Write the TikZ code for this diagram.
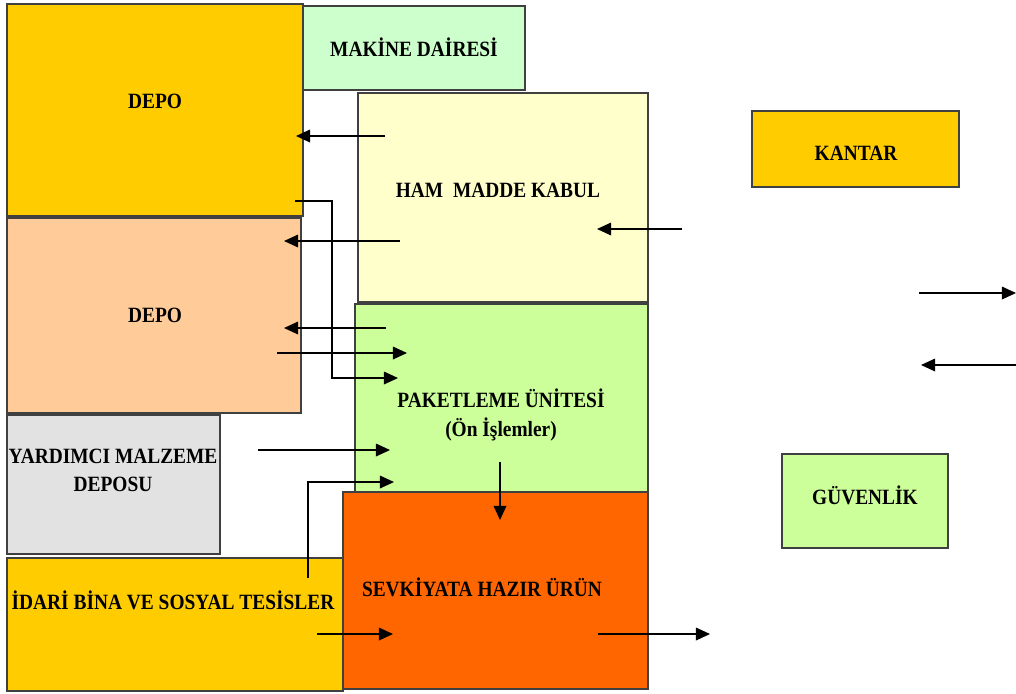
\documentclass[tikz,border=0pt]{standalone}
\usepackage{fontspec}
\setmainfont{Liberation Serif}[FakeStretch=0.89]
\usetikzlibrary{arrows.meta, positioning, fit}
\definecolor{Gold}{HTML}{FFCC00}
\definecolor{Mint}{HTML}{CCFFCC}
\definecolor{Cream}{HTML}{FFFFCC}
\definecolor{Peach}{HTML}{FFCC99}
\definecolor{Lime}{HTML}{CCFF99}
\definecolor{Silver}{HTML}{E2E2E2}
\definecolor{Flame}{HTML}{FF6600}

\begin{document}
\begin{tikzpicture}[x=0.025cm, y=-0.025cm,
  room/.style={draw=black!75, line width=0.9pt, inner sep=0pt},
  lbl/.style={font=\fontsize{15.5}{20}\selectfont\bfseries, align=center, inner sep=1pt},
  flow/.style={-{Triangle[length=10pt,width=9pt]}, line width=0.9pt}]
  \useasboundingbox (0,0) rectangle (1016,693);

  % rooms
  \node (depoA) [room, fill=Gold, fit={(7,4) (303,216)}] {};
  \node (makine) [room, fill=Mint, fit={(303,6) (525,90)}] {};
  \node (hammadde) [room, fill=Cream, fit={(358,93) (648,302)}] {};
  \node (depoB) [room, fill=Peach, fit={(7,218) (301,413)}] {};
  \node (paket) [room, fill=Lime, fit={(355,304) (648,492)}] {};
  \node (yardimci) [room, fill=Silver, fit={(7,415) (220,554)}] {};
  \node (idari) [room, fill=Gold, fit={(7,558) (343,691)}] {};
  \node (sevk) [room, fill=Flame, fit={(343,492) (648,689)}] {};
  \node (kantar) [room, fill=Gold, fit={(752,111) (959,187)}] {};
  \node (guvenlik) [room, fill=Lime, fit={(782,454) (948,548)}] {};

  % labels
  \node (depoAtxt) [lbl] at (155,101) {DEPO};
  \node (makinetxt) [lbl] at (414,47) {MAKİNE DAİRESİ};
  \node (hamtxt) [lbl] at (498,190) {HAM\ \ MADDE KABUL};
  \node (depoBtxt) [lbl] at (155,315) {DEPO};
  \node (pakettxt) [lbl] at (501,415) {PAKETLEME ÜNİTESİ\\(Ön İşlemler)};
  \node (yardimcitxt) [lbl] at (113,470) {YARDIMCI MALZEME\\DEPOSU};
  \node (idaritxt) [lbl] at (173,600) {İDARİ BİNA VE SOSYAL TESİSLER};
  \node (sevktxt) [lbl] at (482,587) {SEVKİYATA HAZIR ÜRÜN};
  \node (kantartxt) [lbl] at (856,153) {KANTAR};
  \node (guvenliktxt) [lbl] at (865,495) {GÜVENLİK};

  % arrow ends
  \coordinate (f1s) at (385,136); \coordinate (f1e) at (296,136);
  \coordinate (f2s) at (295,201); \coordinate (f2e) at (398,378);
  \coordinate (f3s) at (400,241); \coordinate (f3e) at (284,241);
  \coordinate (f4s) at (386,328); \coordinate (f4e) at (284,328);
  \coordinate (f5s) at (277,353); \coordinate (f5e) at (407,353);
  \coordinate (f6s) at (682,229); \coordinate (f6e) at (597,229);
  \coordinate (f7s) at (919,293); \coordinate (f7e) at (1016,293);
  \coordinate (f8s) at (1016,365); \coordinate (f8e) at (921,365);
  \coordinate (f9s) at (258,450); \coordinate (f9e) at (390,450);
  \coordinate (f10s) at (308,578); \coordinate (f10e) at (394,482);
  \coordinate (f11s) at (500,462); \coordinate (f11e) at (500,520);
  \coordinate (f12s) at (317,634); \coordinate (f12e) at (393,634);
  \coordinate (f13s) at (598,634); \coordinate (f13e) at (710,634);

  % flows
  \draw[flow] (f1s) -- (f1e);
  \draw[flow] (f2s) -- (332,201) |- (f2e);
  \draw[flow] (f3s) -- (f3e);
  \draw[flow] (f4s) -- (f4e);
  \draw[flow] (f5s) -- (f5e);
  \draw[flow] (f6s) -- (f6e);
  \draw[flow] (f7s) -- (f7e);
  \draw[flow] (f8s) -- (f8e);
  \draw[flow] (f9s) -- (f9e);
  \draw[flow] (f10s) |- (f10e);
  \draw[flow] (f11s) -- (f11e);
  \draw[flow] (f12s) -- (f12e);
  \draw[flow] (f13s) -- (f13e);
\end{tikzpicture}
\end{document}
